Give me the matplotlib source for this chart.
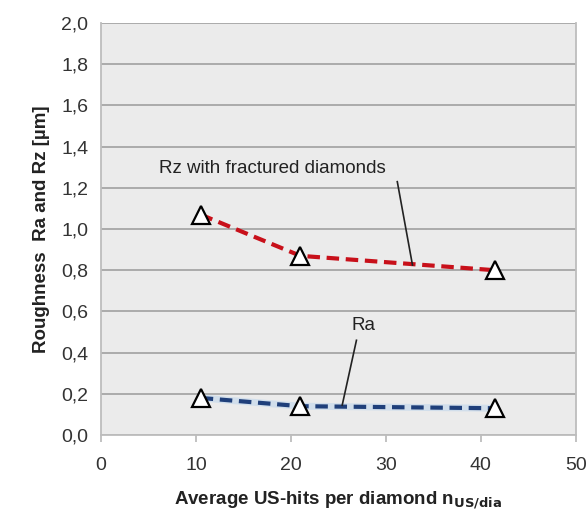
import matplotlib.pyplot as plt
from matplotlib.ticker import FuncFormatter

plt.rcParams['font.family'] = ['Liberation Sans', 'DejaVu Sans']

# data
hits = [10.5, 21.0, 41.5]
rz = [1.07, 0.87, 0.80]
ra = [0.18, 0.14, 0.13]

xticks = [0, 10, 20, 30, 40, 50]
yticks = [0.0, 0.2, 0.4, 0.6, 0.8, 1.0, 1.2, 1.4, 1.6, 1.8, 2.0]

fig = plt.figure(figsize=(5.87, 5.13), dpi=100)
ax = fig.add_axes([0.172, 0.152, 0.809, 0.803])
ax.set_facecolor('#ebebeb')

ax.plot(hits, rz, ls='--', color='#c8101a', lw=3, dashes=(3, 1.6), zorder=3)
ax.plot(hits, ra, ls='-', color='#b9d3ec', lw=5, alpha=0.5, zorder=2)
ax.plot(hits, ra, ls='--', color='#1f3f7a', lw=3, dashes=(3, 1.6), zorder=3)
ax.plot(hits, rz, ls='none', marker='^', ms=13, mfc='white', mec='black', mew=1.6, zorder=4)
ax.plot(hits, ra, ls='none', marker='^', ms=13, mfc='white', mec='black', mew=1.6, zorder=4)

ax.set_xlim(0, 50)
ax.set_ylim(0, 2.0)
ax.set_xticks(xticks)
ax.set_yticks(yticks)
ax.yaxis.set_major_formatter(FuncFormatter(lambda v, p: f'{v:.1f}'.replace('.', ',')))
ax.grid(axis='y', color='#a6a6a6', lw=1.3)
ax.set_axisbelow(True)
ax.spines['top'].set_visible(False)
for s in ['left', 'right', 'bottom']:
    ax.spines[s].set_color('#bdbdbd')
    ax.spines[s].set_linewidth(1.3)
ax.tick_params(axis='y', length=0, pad=9, labelsize=14, colors='#333333')
ax.tick_params(axis='x', length=5, color='#bdbdbd', width=1.3, pad=11, labelsize=14, labelcolor='#333333')

ax.set_ylabel('Roughness  Ra and Rz [µm]', fontsize=13.5, fontweight='bold', color='#222222', labelpad=8)
ax.set_xlabel('Average US-hits per diamond n$_{\\mathbf{US/dia}}$', fontsize=13.5, fontweight='bold',
              color='#222222', labelpad=11)

ax.text(18, 1.295, 'Rz with fractured diamonds', ha='center', va='center', fontsize=13.5, color='#222222')
ax.plot([31.2, 32.8], [1.23, 0.825], color='#222222', lw=1.2, zorder=5)
ax.text(27.6, 0.53, 'Ra', ha='center', va='center', fontsize=13.5, color='#222222')
ax.plot([26.9, 25.4], [0.46, 0.145], color='#222222', lw=1.2, zorder=5)

fig.savefig('out.png', dpi=100)
